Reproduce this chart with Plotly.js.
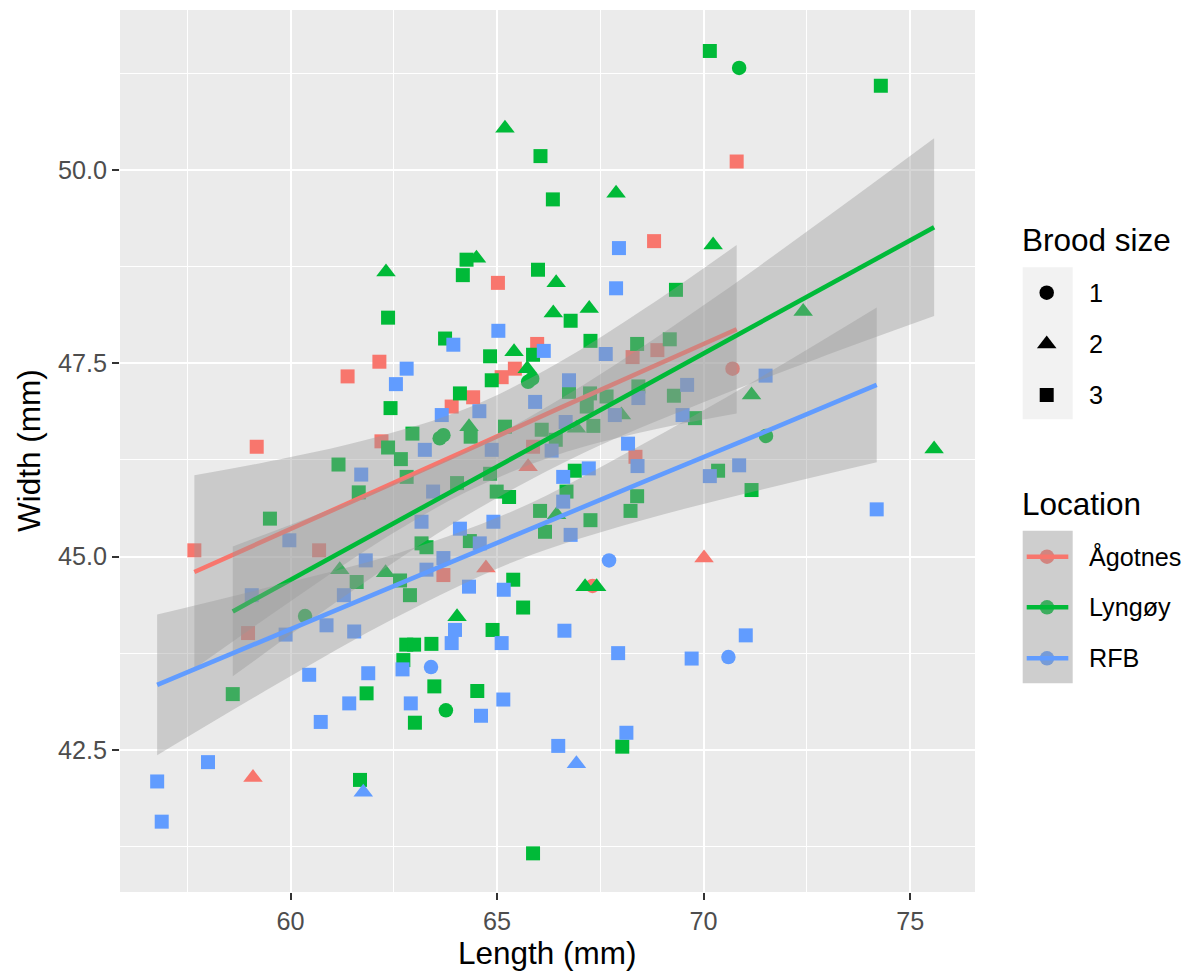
<!DOCTYPE html>
<html>
<head>
<meta charset="utf-8">
<script src="https://cdn.plot.ly/plotly-3.0.1.min.js"></script>
<style>html,body{margin:0;padding:0;background:#fff;}#chart{width:1192px;height:972px;}</style>
</head>
<body>
<div id="chart"></div>
<script>
// ---------------- data ----------------
const locations = ['Ågotnes', 'Lyngøy', 'RFB'];
const broodLabels = ['1', '2', '3'];

const agotnesLength = [62.15,61.38,62.20,59.18,57.67,60.69,65.97,65.43,65.11,64.42,63.90,65.87,68.35,63.70,68.88,68.28,65.02,68.80,70.80,58.97,
  65.75,64.73,70.01,59.09,
  67.31,70.70];
const agotnesWidth = [47.52,47.33,46.49,46.42,45.08,45.08,47.75,47.43,47.32,47.06,46.94,46.42,46.29,44.76,47.67,47.58,48.54,49.08,50.11,44.01,
  46.16,44.85,44.98,42.14,
  44.62,47.43];
const agotnesBrood = [3,3,3,3,3,3,3,3,3,3,3,3,3,3,3,3,3,3,3,3, 2,2,2,2, 1,1];

const lyngoyLength = [70.15,74.29,66.05,66.35,64.26,64.17,65.99,69.33,62.36,62.42,62.95,62.36,62.67,61.16,62.81,61.65,59.50,61.60,62.89,62.65,
  66.78,63.74,67.26,64.83,65.87,64.87,68.39,69.18,66.74,67.25,67.65,68.42,69.28,64.10,64.36,65.19,66.08,67.33,69.79,67.17,
  66.42,66.88,64.83,64.03,64.99,65.29,66.68,68.39,68.23,66.04,67.26,66.16,63.17,63.29,64.34,65.39,70.35,71.16,62.80,62.99,
  62.73,58.60,61.84,63.01,61.68,65.63,64.89,63.41,63.48,64.52,68.03,65.87,
  62.31,65.19,67.88,64.50,66.43,70.23,66.36,67.23,65.41,65.73,64.32,66.44,66.92,68.01,61.19,62.30,67.13,67.41,72.41,71.16,75.58,64.03,
  70.86,65.75,65.85,63.61,63.70,71.51,60.35,63.76];
const lyngoyWidth = [51.54,51.09,50.18,49.62,48.84,48.64,48.71,48.45,48.09,46.92,46.59,46.41,46.26,46.19,46.03,45.83,45.49,44.67,44.50,44.69,
  48.05,47.82,47.79,47.59,47.61,47.28,47.75,47.81,47.13,47.11,47.07,47.20,47.08,47.11,46.55,46.68,46.64,46.69,46.79,46.94,
  46.51,46.11,46.07,45.95,45.84,45.77,45.84,45.78,45.59,45.59,45.47,45.32,45.17,45.12,45.20,44.70,46.11,45.86,43.86,43.86,
  43.66,43.22,43.23,42.85,42.11,44.34,44.05,43.87,43.32,43.26,42.54,41.16,
  48.68,50.54,49.70,48.86,48.54,49.03,48.15,48.21,47.65,47.43,46.68,45.54,46.66,46.83,44.83,44.79,44.61,44.61,48.17,47.09,46.39,44.22,
  51.32,47.26,47.30,46.53,46.57,46.56,44.23,43.01];
const lyngoyBrood = [3,3,3,3,3,3,3,3,3,3,3,3,3,3,3,3,3,3,3,3,
  3,3,3,3,3,3,3,3,3,3,3,3,3,3,3,3,3,3,3,3,
  3,3,3,3,3,3,3,3,3,3,3,3,3,3,3,3,3,3,3,3,
  3,3,3,3,3,3,3,3,3,3,3,3,
  2,2,2,2,2,2,2,2,2,2,2,2,2,2,2,2,2,2,2,2,2,2,
  1,1,1,1,1,1,1,1];

const rfbLength = [67.95,67.88,62.81,62.55,61.71,59.97,61.82,59.06,61.29,65.03,63.94,66.13,67.63,66.74,68.42,69.60,64.57,63.66,65.92,66.66,
  67.85,69.49,63.25,64.87,66.32,68.17,68.40,67.22,66.60,63.45,66.60,66.78,63.17,64.91,64.10,64.58,63.70,63.29,65.16,64.32,
  71.50,70.15,70.86,74.19,59.88,60.87,61.54,62.71,60.45,61.88,61.42,62.91,60.73,58.00,56.77,56.88,63.98,63.90,66.63,65.11,
  67.93,69.71,65.15,64.61,68.13,66.48,71.02,
  61.76,66.92,
  67.71,63.40,70.60];
const rfbWidth = [48.99,48.47,47.43,47.23,46.06,45.21,44.95,44.50,44.50,47.92,47.74,47.66,47.62,47.28,47.05,47.22,46.88,46.83,47.00,46.74,
  46.83,46.83,46.38,46.38,46.37,46.46,46.17,46.14,46.03,45.84,45.71,45.28,45.45,45.45,45.36,45.17,44.98,44.83,44.57,44.61,
  47.34,46.04,46.18,45.61,43.99,44.11,44.03,43.54,43.47,43.49,43.10,43.10,42.86,42.34,42.09,41.57,44.05,43.88,44.04,43.88,
  43.75,43.68,43.15,42.94,42.72,42.55,43.98,
  41.95,42.32,
  44.95,43.57,43.70];
const rfbBrood = [3,3,3,3,3,3,3,3,3,3,3,3,3,3,3,3,3,3,3,3,
  3,3,3,3,3,3,3,3,3,3,3,3,3,3,3,3,3,3,3,3,
  3,3,3,3,3,3,3,3,3,3,3,3,3,3,3,3,3,3,3,3,
  3,3,3,3,3,3,3,
  2,2,
  1,1,1];

// fitted lines and confidence bands
const agotnesBandX = [57.67,59.86,62.05,64.24,66.43,68.61,70.80];
const agotnesFit   = [44.80,45.32,45.85,46.37,46.90,47.42,47.94];
const agotnesUpper = [46.05,46.27,46.54,46.91,47.49,48.22,49.03];
const agotnesLower = [43.55,44.37,45.16,45.83,46.31,46.62,46.85];

const lyngoyBandX = [58.60,61.43,64.26,67.09,69.92,72.75,75.58];
const lyngoyFit   = [44.29,45.12,45.95,46.78,47.60,48.43,49.26];
const lyngoyUpper = [45.13,45.71,46.37,47.22,48.22,49.30,50.41];
const lyngoyLower = [43.45,44.53,45.53,46.34,46.98,47.56,48.11];

const rfbBandX = [56.77,59.67,62.58,65.48,68.38,71.29,74.19];
const rfbFit   = [43.34,43.99,44.63,45.28,45.93,46.57,47.22];
const rfbUpper = [44.25,44.63,45.04,45.61,46.41,47.29,48.22];
const rfbLower = [42.43,43.35,44.22,44.95,45.45,45.85,46.22];

// ---------------- styles ----------------
const colors = {'Ågotnes':'#F8766D','Lyngøy':'#00BA38','RFB':'#619CFF'};
const fadedColors = {'Ågotnes':'#D2847F','Lyngøy':'#3DAD5F','RFB':'#779BD6'};
const symbolOf = {1:'circle',2:'triangle-up',3:'square'};
const sizeOf = {1:14.5,2:17,3:14};
const bandFill = 'rgba(153,153,153,0.4)';
const FONT = 'Liberation Sans, Arial, Helvetica, sans-serif';
const TITLE_SIZE = 31.5;
const TEXT_SIZE = 25.2;
const LINE_W = 4.6;

const groups = [
  {name:'Ågotnes', L:agotnesLength, W:agotnesWidth, B:agotnesBrood, bx:agotnesBandX, fit:agotnesFit, up:agotnesUpper, lo:agotnesLower},
  {name:'Lyngøy', L:lyngoyLength, W:lyngoyWidth, B:lyngoyBrood, bx:lyngoyBandX, fit:lyngoyFit, up:lyngoyUpper, lo:lyngoyLower},
  {name:'RFB', L:rfbLength, W:rfbWidth, B:rfbBrood, bx:rfbBandX, fit:rfbFit, up:rfbUpper, lo:rfbLower}
];

const traces = [];
// points first
groups.forEach(g => {
  traces.push({
    type:'scatter', mode:'markers', x:g.L, y:g.W, hoverinfo:'skip', showlegend:false,
    marker:{color:colors[g.name], opacity:1, symbol:g.B.map(b=>symbolOf[b]), size:g.B.map(b=>sizeOf[b]), line:{width:0}}
  });
});
// smooths: band then line, per group
groups.forEach(g => {
  traces.push({type:'scatter', mode:'lines', x:g.bx, y:g.lo, line:{width:0, shape:'spline'}, hoverinfo:'skip', showlegend:false});
  traces.push({type:'scatter', mode:'lines', x:g.bx, y:g.up, line:{width:0, shape:'spline'}, fill:'tonexty', fillcolor:bandFill, hoverinfo:'skip', showlegend:false});
  traces.push({type:'scatter', mode:'lines', x:g.bx, y:g.fit, line:{width:LINE_W, color:colors[g.name]}, hoverinfo:'skip', showlegend:false});
});

// legend keys (drawn on a helper axis pair in pixel-like units)
const broodKeyY = [292.7, 344, 395];
traces.push({type:'scatter', mode:'markers', xaxis:'x2', yaxis:'y2', x:broodLabels.map(()=>1046.7), y:broodKeyY,
  marker:{color:'#000', opacity:1, symbol:[1,2,3].map(b=>symbolOf[b]), size:[1,2,3].map(b=>sizeOf[b]), line:{width:0}}, hoverinfo:'skip', showlegend:false});
const locKeyY = [556.7, 607.3, 658.3];
locations.forEach((loc,i) => {
  traces.push({type:'scatter', mode:'markers', xaxis:'x2', yaxis:'y2', x:[1047], y:[locKeyY[i]],
    marker:{color:fadedColors[loc], opacity:1, symbol:'circle', size:14.5}, hoverinfo:'skip', showlegend:false});
  traces.push({type:'scatter', mode:'lines', xaxis:'x2', yaxis:'y2', x:[1026.7,1068.3], y:[locKeyY[i],locKeyY[i]],
    line:{color:colors[loc], width:LINE_W}, hoverinfo:'skip', showlegend:false});
});

const annotations = [
  {xref:'x2', yref:'y2', x:1020, y:240, text:'Brood size', showarrow:false, xanchor:'left', yanchor:'middle', font:{family:FONT, size:TITLE_SIZE, color:'#000'}},
  {xref:'x2', yref:'y2', x:1020, y:504, text:'Location', showarrow:false, xanchor:'left', yanchor:'middle', font:{family:FONT, size:TITLE_SIZE, color:'#000'}},
  {xref:'paper', yref:'paper', x:547.5/1192, y:1-953/972, text:'Length (mm)', showarrow:false, xanchor:'center', yanchor:'middle', font:{family:FONT, size:TITLE_SIZE, color:'#000'}},
  {xref:'paper', yref:'paper', x:29/1192, y:1-451/972, text:'Width (mm)', textangle:-90, showarrow:false, xanchor:'center', yanchor:'middle', font:{family:FONT, size:TITLE_SIZE, color:'#000'}}
];
broodLabels.forEach((lab,i) => annotations.push({xref:'x2', yref:'y2', x:1087, y:broodKeyY[i], text:lab, showarrow:false, xanchor:'left', yanchor:'middle', font:{family:FONT, size:TEXT_SIZE, color:'#000'}}));
locations.forEach((lab,i) => annotations.push({xref:'x2', yref:'y2', x:1087, y:locKeyY[i], text:lab, showarrow:false, xanchor:'left', yanchor:'middle', font:{family:FONT, size:TEXT_SIZE, color:'#000'}}));

const shapes = [
  {type:'rect', xref:'x2', yref:'y2', x0:1000, x1:1192, y0:200, y1:700, fillcolor:'#FFFFFF', line:{width:0}, layer:'below'},
  {type:'rect', xref:'x2', yref:'y2', x0:1022.7, x1:1072.7, y0:267.3, y1:419.3, fillcolor:'#F2F2F2', line:{width:0}, layer:'below'},
  {type:'rect', xref:'x2', yref:'y2', x0:1022.7, x1:1072.7, y0:530.7, y1:683.3, fillcolor:'#CECECE', line:{width:0}, layer:'below'}
];

const layout = {
  width:1192, height:972,
  margin:{l:0, r:0, t:0, b:0},
  paper_bgcolor:'#FFFFFF', plot_bgcolor:'#EBEBEB',
  showlegend:false,
  font:{family:FONT},
  xaxis:{
    domain:[120/1192, 975/1192], range:[55.87, 76.57], anchor:'y',
    tick0:60, dtick:5, showgrid:true, gridcolor:'#FFFFFF', gridwidth:2, zeroline:false, showline:false,
    ticks:'outside', ticklen:7, tickwidth:2, tickcolor:'#333333',
    tickfont:{family:FONT, size:TEXT_SIZE, color:'#4D4D4D'},
    minor:{tick0:57.5, dtick:2.5, showgrid:true, gridcolor:'#FFFFFF', gridwidth:1, ticklen:0},
    automargin:false
  },
  yaxis:{
    domain:[1-892/972, 1-10/972], range:[40.66, 52.07], anchor:'x',
    tick0:42.5, dtick:2.5, tickformat:'.1f', showgrid:true, gridcolor:'#FFFFFF', gridwidth:2, zeroline:false, showline:false,
    ticks:'outside', ticklen:7, tickwidth:2, tickcolor:'#333333',
    tickfont:{family:FONT, size:TEXT_SIZE, color:'#4D4D4D'},
    minor:{tick0:41.25, dtick:1.25, showgrid:true, gridcolor:'#FFFFFF', gridwidth:1, ticklen:0},
    automargin:false
  },
  xaxis2:{domain:[1000/1192, 1], range:[1000, 1192], anchor:'y2', visible:false, fixedrange:true},
  yaxis2:{domain:[1-700/972, 1-200/972], range:[700, 200], anchor:'x2', visible:false, fixedrange:true},
  shapes:shapes,
  annotations:annotations
};

Plotly.newPlot('chart', traces, layout, {staticPlot:true, displayModeBar:false});
</script>
</body>
</html>
